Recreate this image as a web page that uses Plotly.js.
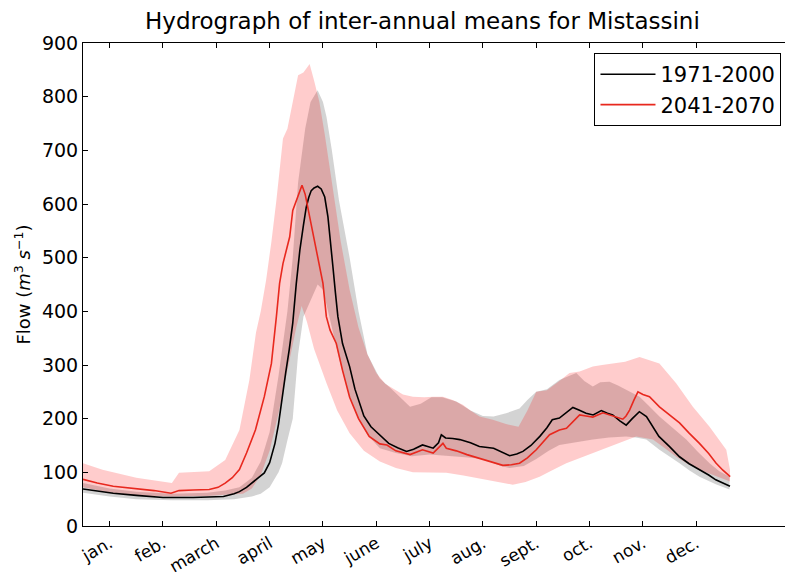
<!DOCTYPE html>
<html>
<head>
<meta charset="utf-8">
<script src="https://cdn.plot.ly/plotly-3.0.1.min.js"></script>
<style>
  html, body { margin: 0; padding: 0; overflow: hidden; background: #fff; }
  #chart { width: 800px; height: 572px; }
</style>
</head>
<body>
<div id="chart"></div>
<script>
// ---- data (day of year -> flow, m3/s) ----
const monthTickDays = [15,45,75,105,135,165,195,225,255,285,315,345];
const monthLabels = ["jan.","feb.","march","april","may","june","july","aug.","sept.","oct.","nov.","dec."];
const yTicks = [0,100,200,300,400,500,600,700,800,900];

// 1971-2000 mean
const refDays = [0,8,17,30,45,62,79,85,88,92,95,99,102,105,108,110,112,114,116,118,120,122,124,125.6,127,128.4,130,132,134,136,137.8,139,140.6,142,143.4,146,150,153,155.6,158,162,167,172,177,182,186,191,197,200,201.6,204,208,212,218,223,231,236,240,244,247.5,252,257,261,264,268,272,275.6,279,283,287,291.6,295,298,302,305.6,309,313,317,320,324,330,335.6,341,347,352,356,360,364];
const refMean = [69,65,61,57,53,53,55,60,64,72,80,92,99,118,154,190,241,285,328,378,452,514,560,594,612,625,630,633,628,613,576,530,483,435,390,340,297,255,229,205,185,170,154,146,139,143,151,145,155,170,164,163,161,155,148,145,138,131,134,139,150,167,183,198,201,212,221,216,210,207,215,210,207,196,188,200,213,204,188,167,148,129,116,105,95,86,80,74];

// 1971-2000 band (grey)
const refUpDays = [0,15,30,50,70,80,88,95,100,105,110,115,118,121,125,128,132,135,137,140,144,150,155,160,167,174,184,190,196,202,210,218,225,231,238,245.6,250,255,261,268,273.7,277.5,282,286.8,291,296.2,301,305.6,309,313.1,318,324.3,332,339.4,346,352.5,358,363.7];
const refUp = [80,70,64,60,62,66,72,90,120,175,280,400,500,640,740,790,812,790,762,700,607,500,400,320,275,254,222,228,240,240,232,215,205,204,210,219,235,250,255,272,280,285,270,260,268,269,262,254,248,241,225,204,182,161,138,117,102,92];
const refLoDays = [0,15,30,50,70,85,95,100,105,110,112,115,118,121,124,128,132,135,140,145,150,155,160,167,176,185,195,205,215,225,235,240,248,255,262,268,276,286.8,296,305.6,311,316.9,324.3,330,335.6,341,346.8,356,363.7];
const refLo = [62,55,50,48,48,50,55,60,72,100,117,160,200,320,390,420,450,440,370,300,240,200,170,145,136,130,133,130,128,125,112,108,112,125,140,151,155,161,165,167,165,161,142,130,117,104,92,78,68];

// 2041-2070 mean
const futDays = [0,8,17,30,40,49.5,54,62,71,76,80,84,88,92,97,102,106,108.8,110.6,112.5,114.5,116.3,118,120.5,123.2,125,126.5,128.5,130.3,131.5,133.1,135,136.9,139,142.5,146,150,155,161,167,171,176,184,191,197,200,202.5,204.4,210,216,221,227,232,236.2,241,245.6,250,255,262.5,268,272,276,279.4,283,286.8,292.5,297,303.7,305.5,307.5,310,312.2,315,318.7,324.3,330,335.6,341,346.8,352,356.2,360,364.1];
const futMean = [87,80,74,70,66,61,66,67,68,72,80,90,105,136,179,241,303,390,452,489,515,539,588,610,635,618,594,560,532,515,483,452,390,365,340,290,240,200,167,153,151,140,133,142,136,146,154,145,140,133,128,123,118,113,114,117,127,142,170,179,182,196,207,205,203,211,206,199,205,216,235,250,245,241,222,207,192,173,154,135,117,104,92];

// 2041-2070 band (pink)
const futUpDays = [0,11,30,50,54,60,71,80,88,93.6,97.3,100,103,106,108.8,112.5,115,118,121,124,127.5,130,133,136,140,145,150,155,160,165,170,175,180,185.6,192,197,202.5,208,213.7,218,223.1,230.6,238,245,250,255,261,268,273.7,279.4,286.8,292,298,305,313.1,318,324.3,333.7,343.1,352.5,361.9,364];
const futUp = [117,105,90,80,99,100,102,123,179,272,360,400,458,530,607,722,740,790,840,845,861,830,790,730,640,530,440,370,320,285,265,255,245,241,240,241,241,235,226,215,204,198,190,185,215,250,253,270,285,288,297,300,303,306,315,310,303,266,222,185,142,105];
const futLoDays = [0,15,30,50,70,80,90,95,100,105,110,115,120,123,126,130,137,143,150,158,167,176,185.6,195,204.4,214,223.1,232,241.8,249,256.9,264,271.9,279.4,288,296.2,304,311.2,320.6,327,333.7,340,346.8,356,364];
const futLo = [72,62,57,55,56,58,60,70,95,140,210,290,370,410,380,330,266,215,173,140,120,108,100,100,99,94,89,83,77,82,92,104,117,126,138,148,158,167,161,146,129,116,105,93,83];

function band(upD, up, loD, lo, color) {
  return {
    x: upD.concat(loD.slice().reverse()),
    y: up.concat(lo.slice().reverse()),
    type: 'scatter', mode: 'lines', fill: 'toself',
    fillcolor: color, line: {width: 0, color: 'rgba(0,0,0,0)'},
    showlegend: false, hoverinfo: 'skip'
  };
}

const traces = [
  band(refUpDays, refUp, refLoDays, refLo, 'rgba(128,128,128,0.35)'),
  band(futUpDays, futUp, futLoDays, futLo, 'rgba(255,0,0,0.2)'),
  {x: refDays, y: refMean, type: 'scatter', mode: 'lines', name: '1971-2000',
   line: {color: '#000000', width: 1.6}, hoverinfo: 'skip'},
  {x: futDays, y: futMean, type: 'scatter', mode: 'lines', name: '2041-2070',
   line: {color: '#e8281e', width: 1.6}, hoverinfo: 'skip'}
];

const layout = {
  width: 800, height: 572,
  margin: {l: 83, r: 5.5, t: 43, b: 46},
  paper_bgcolor: '#ffffff', plot_bgcolor: '#ffffff',
  font: {family: 'DejaVu Sans', color: '#000000'},
  title: {text: 'Hydrograph of inter-annual means for Mistassini',
          font: {size: 23, family: 'DejaVu Sans', color: '#000'},
          xref: 'container', x: 0.528, xanchor: 'center',
          yref: 'container', y: 0.963, yanchor: 'middle'},
  xaxis: {range: [0, 400], tickmode: 'array', tickvals: monthTickDays, ticktext: monthLabels,
          tickangle: -30, ticks: 'inside', ticklen: 5, tickcolor: '#000',
          showline: true, linecolor: '#000', linewidth: 1, mirror: 'ticks',
          showgrid: false, zeroline: false, tickfont: {size: 17}},
  yaxis: {range: [0, 900], tickmode: 'array', tickvals: yTicks,
          ticks: 'inside', ticklen: 5, tickcolor: '#000',
          showline: true, linecolor: '#000', linewidth: 1, mirror: 'ticks',
          showgrid: false, zeroline: false, tickfont: {size: 19},
          title: {text: 'Flow (<i>m</i><sup>3</sup> <i>s</i><sup>−1</sup>)', font: {size: 18}, standoff: 6}},
  showlegend: true,
  legend: {x: 0.9824, xanchor: 'right', y: 0.979, yanchor: 'top',
           bgcolor: '#ffffff', bordercolor: '#000', borderwidth: 1,
           font: {size: 21}, tracegroupgap: 0, itemwidth: 55}
};

Plotly.newPlot('chart', traces, layout, {displayModeBar: false, staticPlot: true});
</script>
</body>
</html>
